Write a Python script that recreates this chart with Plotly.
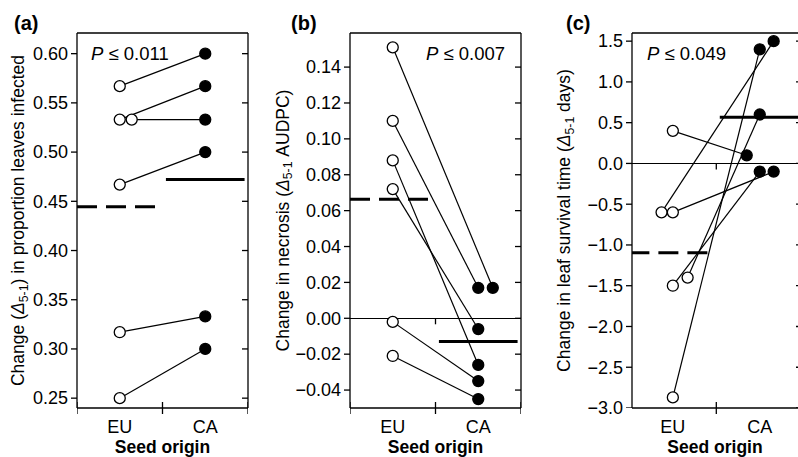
import numpy as np
import plotly.graph_objects as go

# ---------------- data ----------------
categories = ["EU", "CA"]

# (a) proportion of leaves infected
a_eu = [0.567, 0.533, 0.533, 0.467, 0.317, 0.250]
a_ca = [0.600, 0.567, 0.533, 0.500, 0.333, 0.300]
# (b) necrosis AUDPC
b_eu = [0.151, 0.110, 0.088, 0.072, -0.002, -0.021]
b_ca = [0.017, 0.017, -0.026, -0.006, -0.035, -0.045]
# (c) leaf survival time (days)
c_eu = [0.40, -0.60, -0.60, -1.50, -1.40, -2.87]
c_ca = [0.10, 1.50, -0.10, -0.10, 0.60, 1.40]

p_texts = ["<i>P</i> ≤ 0.011", "<i>P</i> ≤ 0.007", "<i>P</i> ≤ 0.049"]
panel_labels = ["(a)", "(b)", "(c)"]
y_titles = [
    "Change (<i>Δ</i><sub>5-1</sub>) in proportion leaves infected",
    "Change in necrosis (<i>Δ</i><sub>5-1</sub> AUDPC)",
    "Change in leaf survival time (<i>Δ</i><sub>5-1</sub> days)",
]
y_ticks = [
    [0.25, 0.30, 0.35, 0.40, 0.45, 0.50, 0.55, 0.60],
    [-0.04, -0.02, 0.00, 0.02, 0.04, 0.06, 0.08, 0.10, 0.12, 0.14],
    [-3.0, -2.5, -2.0, -1.5, -1.0, -0.5, 0.0, 0.5, 1.0, 1.5],
]
y_formats = [".2f", ".2f", ".1f"]
x_boundary_ticks = [0.5, 1.5, 2.5]

# ---------------- layout / style (positions, jitter) ----------------
W, H = 798, 457
FONT = "Liberation Sans, Arial, Helvetica, sans-serif"
eu_jitter = [[0, 0, 0.14, 0, 0, 0], [0, 0, 0, 0, 0, 0], [0, -0.13, 0, 0, 0.17, 0]]
ca_jitter = [[0, 0, 0, 0, 0, 0], [0.17, 0, 0, 0, 0, 0], [-0.15, 0.16, 0.16, 0, 0, 0]]
x_px = [(77, 248), (350, 521), (632, 798)]
x_ranges = [[0.5, 2.5], [0.5, 2.5], [0.53, 2.44]]
y_ranges = [[0.24, 0.621], [-0.050, 0.159], [-3.0, 1.60]]
title_standoff = [3, 0, 12]
top_px, bot_px = 33, 408
ydom = [1 - bot_px / H, 1 - top_px / H]
TICK = 6
LW = 1.3
BLACK = dict(color="black", width=LW)

eu_data = [a_eu, b_eu, c_eu]
ca_data = [a_ca, b_ca, c_ca]

fig = go.Figure()

for i in range(3):
    sfx = "" if i == 0 else str(i + 1)
    xa, ya = "x" + sfx, "y" + sfx
    eu, ca = eu_data[i], ca_data[i]
    ex = [1 + j for j in eu_jitter[i]]
    cx = [2 + j for j in ca_jitter[i]]
    # connectors
    lx, ly = [], []
    for k in range(len(eu)):
        lx += [ex[k], cx[k], None]
        ly += [eu[k], ca[k], None]
    fig.add_trace(go.Scatter(x=lx, y=ly, mode="lines", line=dict(color="black", width=1.2),
                             xaxis=xa, yaxis=ya, showlegend=False, hoverinfo="skip"))
    # means
    m_eu, m_ca = float(np.mean(eu)), float(np.mean(ca))
    fig.add_trace(go.Scatter(x=[0.5, 1.46], y=[m_eu, m_eu], mode="lines",
                             line=dict(color="black", width=3, dash="20px,9px"),
                             xaxis=xa, yaxis=ya, showlegend=False, hoverinfo="skip"))
    fig.add_trace(go.Scatter(x=[1.54, 2.46], y=[m_ca, m_ca], mode="lines",
                             line=dict(color="black", width=3),
                             xaxis=xa, yaxis=ya, showlegend=False, hoverinfo="skip"))
    # points
    fig.add_trace(go.Scatter(x=ex, y=eu, mode="markers",
                             marker=dict(size=11, color="white", line=dict(color="black", width=1.3)),
                             xaxis=xa, yaxis=ya, showlegend=False, cliponaxis=False))
    fig.add_trace(go.Scatter(x=cx, y=ca, mode="markers",
                             marker=dict(size=11, color="black", line=dict(color="black", width=1.3)),
                             xaxis=xa, yaxis=ya, showlegend=False, cliponaxis=False))

    fig.layout["xaxis" + sfx] = dict(
        domain=[x_px[i][0] / W, x_px[i][1] / W], anchor=ya, range=x_ranges[i],
        tickmode="array", tickvals=[1, 2], ticktext=categories, ticks="",
        tickfont=dict(family=FONT, size=18, color="black"), ticklabelstandoff=6,
        showline=False, showgrid=False, zeroline=False, automargin=False,
        title=dict(text="<b>Seed origin</b>", font=dict(family=FONT, size=17.5, color="black"), standoff=2),
    )
    fig.layout["yaxis" + sfx] = dict(
        domain=ydom, anchor=xa, range=y_ranges[i],
        tickmode="array", tickvals=y_ticks[i], tickformat=y_formats[i],
        ticks="", ticklabelstandoff=8,
        tickfont=dict(family=FONT, size=18, color="black"),
        showline=False, showgrid=False, automargin=False,
        zeroline=(i != 0), zerolinecolor="black", zerolinewidth=1.1,
        title=dict(text=y_titles[i], font=dict(family=FONT, size=17.5, color="black"),
                   standoff=title_standoff[i]),
    )
    xd, yd = xa + " domain", ya + " domain"
    # frame: left, bottom, top (and right for a, b)
    fig.add_shape(type="line", xref=xd, yref=yd, x0=0, x1=0, y0=0, y1=1, line=BLACK, layer="above")
    fig.add_shape(type="line", xref=xd, yref=yd, x0=0, x1=1, y0=0, y1=0, line=BLACK, layer="above")
    fig.add_shape(type="line", xref=xd, yref=yd, x0=0, x1=1, y0=1, y1=1, line=BLACK, layer="above")
    if i != 2:
        fig.add_shape(type="line", xref=xd, yref=yd, x0=1, x1=1, y0=0, y1=1, line=BLACK, layer="above")
    # y ticks: outside on the left, inside on the right
    for v in y_ticks[i]:
        fig.add_shape(type="line", xref=xd, yref=ya, xsizemode="pixel", xanchor=0,
                      x0=-TICK, x1=0, y0=v, y1=v, line=BLACK, layer="above")
        fig.add_shape(type="line", xref=xd, yref=ya, xsizemode="pixel", xanchor=1,
                      x0=-TICK if i != 2 else -2, x1=0, y0=v, y1=v, line=BLACK, layer="above")
    # bottom crossing ticks at category boundaries
    for v in x_boundary_ticks:
        fig.add_shape(type="line", xref=xa, yref=yd, ysizemode="pixel", yanchor=0,
                      x0=v, x1=v, y0=-TICK, y1=TICK, line=BLACK, layer="above")
    # small tick under the zero line
    if i > 0:
        fig.add_shape(type="line", xref=xa, yref=ya, ysizemode="pixel", yanchor=0,
                      x0=1.5, x1=1.5, y0=-TICK, y1=0, line=BLACK, layer="above")

# panel labels
label_x = [12, 289, 564]
for i in range(3):
    fig.add_annotation(text=f"<b>{panel_labels[i]}</b>", x=label_x[i] / W, y=1 - 23 / H,
                       xref="paper", yref="paper", xanchor="left", yanchor="middle",
                       showarrow=False, font=dict(family=FONT, size=20, color="black"))

# P-value annotations
p_pos = [(89, "left"), (507, "right"), (645, "left")]
for i in range(3):
    fig.add_annotation(text=p_texts[i], x=p_pos[i][0] / W, y=1 - 53 / H,
                       xref="paper", yref="paper", xanchor=p_pos[i][1], yanchor="middle",
                       showarrow=False, font=dict(family=FONT, size=18.5, color="black"))

fig.update_layout(
    width=W, height=H, margin=dict(l=0, r=0, t=0, b=0, autoexpand=False),
    paper_bgcolor="white", plot_bgcolor="white", showlegend=False,
    font=dict(family=FONT, color="black"),
)

fig.write_html("out.html", config={"displayModeBar": False},
               post_script="document.body.style.margin='0';")
